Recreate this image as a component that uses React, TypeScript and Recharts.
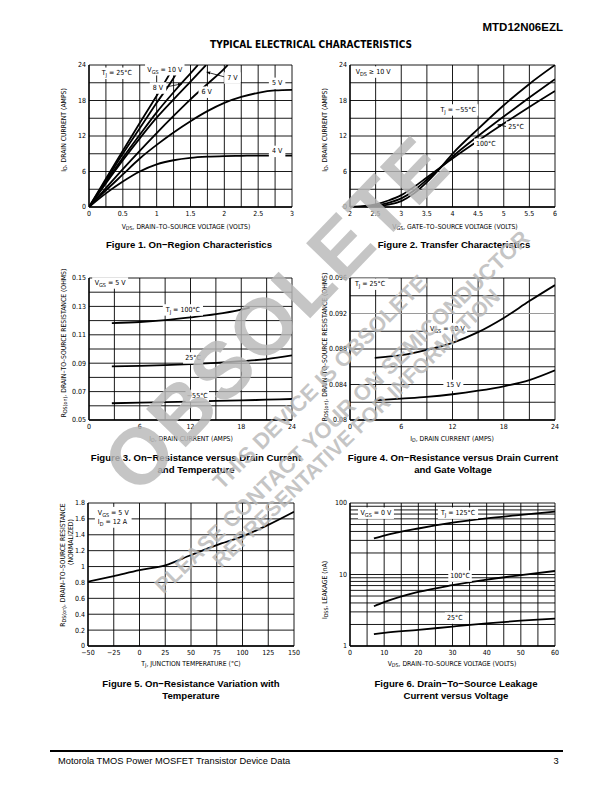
import React from 'react';
import { LineChart, Line, XAxis, YAxis, CartesianGrid, ReferenceDot, ReferenceLine } from 'recharts';

const NARROW = "'Liberation Sans Narrow', 'DejaVu Sans Condensed', 'Liberation Sans', Arial, sans-serif";
const SANS = "'Liberation Sans', Arial, Helvetica, sans-serif";

// ---------- Figure 1: on-region characteristics
const f1XTicks = [0, 0.25, 0.5, 0.75, 1, 1.25, 1.5, 1.75, 2, 2.25, 2.5, 2.75, 3];
const f1XLabels = ['0', '0.5', '1', '1.5', '2', '2.5', '3'];
const f1YTicks = [0, 3, 6, 9, 12, 15, 18, 21, 24];
const f1YLabels = ['0', '6', '12', '18', '24'];
const f1Vds10 = [0, 0.25, 0.5, 0.75, 1, 1.27];
const f1Id10 = [0, 4.8, 9.5, 14.2, 18.8, 24];
const f1Vds9 = [0, 0.25, 0.5, 0.75, 1, 1.25, 1.36];
const f1Id9 = [0, 4.5, 9.0, 13.3, 17.6, 21.8, 24];
const f1Vds8 = [0, 0.25, 0.5, 0.75, 1, 1.25, 1.5, 1.61];
const f1Id8 = [0, 4.2, 8.3, 12.2, 16.0, 19.4, 22.6, 24];
const f1Vds7 = [0, 0.25, 0.5, 0.75, 1, 1.25, 1.5, 1.73];
const f1Id7 = [0, 4.0, 7.9, 11.6, 15.1, 18.2, 21.2, 24];
const f1Vds6 = [0, 0.25, 0.5, 0.75, 1, 1.25, 1.5, 1.75, 2, 2.05];
const f1Id6 = [0, 3.2, 6.4, 9.5, 12.5, 15.4, 18.2, 20.8, 23.4, 24];
const f1VdsLow = [0, 0.25, 0.5, 0.75, 1, 1.25, 1.5, 1.75, 2, 2.25, 2.5, 2.75, 3];
const f1Id5 = [0, 2.8, 5.5, 8.2, 10.5, 12.6, 14.5, 16.2, 17.6, 18.6, 19.3, 19.7, 19.8];
const f1Id4 = [0, 2.3, 4.3, 6.0, 7.2, 7.9, 8.3, 8.5, 8.6, 8.65, 8.7, 8.7, 8.7];

// ---------- Figure 2: transfer characteristics
const f2XTicks = [2, 2.5, 3, 3.5, 4, 4.5, 5, 5.5, 6];
const f2XLabels = ['2', '2.5', '3', '3.5', '4', '4.5', '5', '5.5', '6'];
const f2YTicks = [0, 3, 6, 9, 12, 15, 18, 21, 24];
const f2YLabels = ['0', '6', '12', '18', '24'];
const f2Vgs = [2, 2.25, 2.5, 2.75, 3, 3.25, 3.5, 3.75, 4, 4.5, 5, 5.5, 6];
const f2IdM55 = [0, 0.02, 0.1, 0.4, 1.0, 2.3, 4.2, 6.5, 9.0, 13.2, 17.2, 20.8, 24];
const f2Id25 = [0.02, 0.07, 0.25, 0.7, 1.45, 2.8, 4.6, 6.5, 8.5, 12.0, 15.3, 18.5, 21.6];
const f2Id100 = [0.05, 0.15, 0.45, 1.1, 2.0, 3.4, 5.0, 6.6, 8.2, 11.2, 14.1, 16.9, 19.6];

// ---------- Figure 3: on-resistance vs drain current and temperature
const f3XTicks = [0, 3, 6, 9, 12, 15, 18, 21, 24];
const f3XLabels = ['0', '6', '12', '18', '24'];
const f3YTicks = [0.05, 0.06, 0.07, 0.08, 0.09, 0.1, 0.11, 0.12, 0.13, 0.14, 0.15];
const f3YLabels = ['0.05', '0.07', '0.09', '0.11', '0.13', '0.15'];
const f3Id100 = [2.7, 6, 9, 12, 15, 18, 19];
const f3R100 = [0.1182, 0.119, 0.1203, 0.1222, 0.1245, 0.1278, 0.1292];
const f3Id = [2.7, 6, 9, 12, 15, 18, 21, 24];
const f3R25 = [0.0878, 0.0881, 0.0886, 0.0893, 0.0902, 0.0914, 0.0929, 0.0955];
const f3RM55 = [0.0618, 0.0622, 0.0626, 0.063, 0.0634, 0.0638, 0.0643, 0.0648];

// ---------- Figure 4: on-resistance vs drain current and gate voltage
const f4XTicks = [0, 3, 6, 9, 12, 15, 18, 21, 24];
const f4XLabels = ['0', '6', '12', '18', '24'];
const f4YTicks = [0.08, 0.082, 0.084, 0.086, 0.088, 0.09, 0.092, 0.094, 0.096];
const f4YLabels = ['0.08', '0.084', '0.088', '0.092', '0.096'];
const f4Id = [2.9, 6, 9, 12, 15, 18, 21, 24];
const f4R10 = [0.087, 0.0873, 0.0879, 0.0887, 0.0899, 0.0915, 0.0934, 0.0952];
const f4R15 = [0.0822, 0.0824, 0.0826, 0.0829, 0.0833, 0.0838, 0.0845, 0.0856];

// ---------- Figure 5: on-resistance vs temperature
const f5XTicks = [-50, -25, 0, 25, 50, 75, 100, 125, 150];
const f5XLabels = ['−50', '−25', '0', '25', '50', '75', '100', '125', '150'];
const f5YTicks = [0, 0.2, 0.4, 0.6, 0.8, 1, 1.2, 1.4, 1.6, 1.8];
const f5YLabels = ['0', '0.2', '0.4', '0.6', '0.8', '1', '1.2', '1.4', '1.6', '1.8'];
const f5Tj = [-50, -25, 0, 25, 50, 75, 100, 125, 150];
const f5Rn = [0.81, 0.88, 0.955, 1.015, 1.145, 1.27, 1.38, 1.525, 1.69];

// ---------- Figure 6: drain-to-source leakage
const f6XTicks = [0, 5, 10, 15, 20, 25, 30, 35, 40, 45, 50, 55, 60];
const f6XLabels = ['0', '10', '20', '30', '40', '50', '60'];
const f6YTicks = [1, 2, 3, 4, 5, 6, 7, 8, 9, 10, 20, 30, 40, 50, 60, 70, 80, 90, 100];
const f6YLabels = ['1', '10', '100'];
const f6Vds = [7, 10, 20, 30, 40, 50, 60];
const f6I125 = [32, 35, 44, 53, 61, 68, 76];
const f6I100 = [3.6, 4.1, 5.7, 7.1, 8.5, 9.8, 11.2];
const f6I25 = [1.46, 1.53, 1.68, 1.87, 2.07, 2.26, 2.42];

const pts = (xs: number[], ys: number[]) => xs.map((x, i) => ({ x, y: ys[i] }));

const YW = 40;
const MT = 6;
const MR = 8;
const XH = 20;

const labelFmt = (labels: string[]) => (v: number) =>
  labels.find((l) => Math.abs(parseFloat(l.replace('−', '-')) - v) < 1e-9) ?? '';

function richSvg(s: string, fs: number) {
  const parts = s.split(/(_\{[^}]*\})/).filter(Boolean);
  let sub = false;
  return parts.map((p, i) => {
    if (p.startsWith('_{')) {
      sub = true;
      return (
        <tspan key={i} fontSize={fs * 0.78} dy={fs * 0.28}>
          {p.slice(2, -1)}
        </tspan>
      );
    }
    const dy = sub ? -fs * 0.28 : 0;
    sub = false;
    return (
      <tspan key={i} dy={dy}>
        {p}
      </tspan>
    );
  });
}

function richHtml(s: string) {
  const parts = s.split(/(_\{[^}]*\})/).filter(Boolean);
  return parts.map((p, i) =>
    p.startsWith('_{') ? (
      <span key={i} style={{ fontSize: '0.78em', position: 'relative', top: '0.25em' }}>
        {p.slice(2, -1)}
      </span>
    ) : (
      <span key={i}>{p}</span>
    )
  );
}

const textLen = (s: string) => {
  const subs = (s.match(/_\{([^}]*)\}/g) || []).map((m) => m.length - 3);
  const plain = s.replace(/_\{[^}]*\}/g, '');
  return plain.length + subs.reduce((a, b) => a + b * 0.78, 0);
};

function Tag({ cx, cy, text, fs, align }: any) {
  const lines = text.split('\n');
  const w = Math.max(...lines.map((l: string) => textLen(l))) * fs * 0.5 + 6;
  const lh = fs * 1.35;
  const h = lines.length * lh + 2;
  const left = cx - w / 2;
  return (
    <g>
      <rect x={left} y={cy - h / 2} width={w} height={h} fill="#fff" />
      {lines.map((l: string, i: number) => (
        <text
          key={i}
          x={align === 'start' ? left + 3 : cx}
          y={cy - h / 2 + 1 + lh * i + lh / 2}
          textAnchor={align === 'start' ? 'start' : 'middle'}
          dominantBaseline="central"
          fontSize={fs}
          fontFamily={NARROW}
          fill="#000"
        >
          {richSvg(l, fs)}
        </text>
      ))}
    </g>
  );
}

function tag(key: string, x: number, y: number, text: string, align = 'middle') {
  return (
    <ReferenceDot
      key={key}
      x={x}
      y={y}
      r={0}
      ifOverflow="visible"
      shape={(p: any) => <Tag cx={p.cx} cy={p.cy} text={text} fs={7} align={align} />}
    />
  );
}

function arrow(key: string, x1: number, y1: number, x2: number, y2: number) {
  return (
    <ReferenceLine
      key={key}
      segment={[
        { x: x1, y: y1 },
        { x: x2, y: y2 },
      ]}
      ifOverflow="visible"
      shape={(p: any) => (
        <line x1={p.x1} y1={p.y1} x2={p.x2} y2={p.y2} stroke="#000" strokeWidth={0.8} markerEnd="url(#ah)" />
      )}
    />
  );
}

function curve(key: string, data: { x: number; y: number }[]) {
  return (
    <Line
      key={key}
      data={data}
      dataKey="y"
      type="monotone"
      stroke="#000"
      strokeWidth={1.8}
      dot={false}
      isAnimationActive={false}
    />
  );
}

const xTick = (labels: string[]) => (p: any) => (
  <text x={p.x} y={p.y} dy="0.71em" textAnchor="middle" fontSize={7} fontFamily={NARROW} fill="#000">
    {labelFmt(labels)(p.payload.value)}
  </text>
);

const yTick = (labels: string[]) => (p: any) => (
  <text x={p.x} y={p.y} dy="0.35em" textAnchor="end" fontSize={7} fontFamily={NARROW} fill="#000">
    {labelFmt(labels)(p.payload.value)}
  </text>
);

function Panel(props: any) {
  const { x, y, w, h, xDomain, xTicks, xLabels, yDomain, yTicks, yLabels, log, children } = props;
  return (
    <div style={{ position: 'absolute', left: x - YW, top: y - MT }}>
      <LineChart width={w + YW + MR} height={h + MT + XH} margin={{ top: MT, right: MR, left: 0, bottom: 0 }}>
        <CartesianGrid stroke="#000" strokeWidth={0.9} fill="#fff" />
        <XAxis
          dataKey="x"
          type="number"
          domain={xDomain}
          ticks={xTicks}
          interval={0}
          allowDataOverflow
          tickLine={false}
          tickSize={0}
          tickMargin={4}
          height={XH}
          axisLine={{ stroke: '#000', strokeWidth: 1.3 }}
          tick={xTick(xLabels)}
        />
        <YAxis
          type="number"
          domain={yDomain}
          ticks={yTicks}
          scale={log ? 'log' : 'auto'}
          interval={0}
          allowDataOverflow
          tickLine={false}
          tickSize={0}
          tickMargin={3}
          width={YW}
          axisLine={{ stroke: '#000', strokeWidth: 1.3 }}
          tick={yTick(yLabels)}
        />
        {children}
      </LineChart>
    </div>
  );
}

function Txt({ x, y, text, size = 6.8, bold = false, font = NARROW, rotate = false, anchor = 'middle' }: any) {
  const tx = anchor === 'start' ? '0' : anchor === 'end' ? '-100%' : '-50%';
  return (
    <div
      style={{
        position: 'absolute',
        left: x,
        top: y,
        transform: `translate(${tx},-50%)${rotate ? ' rotate(-90deg)' : ''}`,
        whiteSpace: 'nowrap',
        fontSize: size,
        fontWeight: bold ? 'bold' : 'normal',
        fontFamily: font,
        lineHeight: 1,
        color: '#000',
      }}
    >
      {richHtml(text)}
    </div>
  );
}

const CAP = 9.6;

export default function App() {
  return (
    <div style={{ position: 'absolute', left: 0, top: 0, width: 612, height: 792, background: '#fff', overflow: 'hidden' }}>
      <svg width={0} height={0} style={{ position: 'absolute' }}>
        <defs>
          <marker id="ah" viewBox="0 0 10 10" refX="9" refY="5" markerWidth="5" markerHeight="5" orient="auto">
            <path d="M0,1 L10,5 L0,9 z" fill="#000" />
          </marker>
        </defs>
      </svg>

      <Txt x={563} y={28} text="MTD12N06EZL" size={11.5} bold font={SANS} anchor="end" />
      <Txt x={311} y={45} text="TYPICAL ELECTRICAL CHARACTERISTICS" size={10} bold />

      {/* Figure 1 */}
      <Panel x={89} y={65} w={203} h={142} xDomain={[0, 3]} xTicks={f1XTicks} xLabels={f1XLabels}
        yDomain={[0, 24]} yTicks={f1YTicks} yLabels={f1YLabels}>
        {curve('10', pts(f1Vds10, f1Id10))}
        {curve('9', pts(f1Vds9, f1Id9))}
        {curve('8', pts(f1Vds8, f1Id8))}
        {curve('7', pts(f1Vds7, f1Id7))}
        {curve('6', pts(f1Vds6, f1Id6))}
        {curve('5', pts(f1VdsLow, f1Id5))}
        {curve('4', pts(f1VdsLow, f1Id4))}
        {tag('tj', 0.41, 22.6, 'T_{J} = 25°C')}
        {tag('v10', 1.12, 23.2, 'V_{GS} = 10 V')}
        {tag('v8', 1.02, 20.1, '8 V')}
        {arrow('a8', 1.14, 20.3, 1.37, 20.8)}
        {tag('v7', 2.12, 21.8, '7 V')}
        {arrow('a7', 2.0, 22.0, 1.74, 22.8)}
        {tag('v6', 1.74, 19.4, '6 V')}
        {tag('v5', 2.78, 20.9, '5 V')}
        {tag('v4', 2.78, 9.4, '4 V')}
      </Panel>
      <Txt x={64} y={130} text="I_{D}, DRAIN CURRENT (AMPS)" rotate />
      <Txt x={186} y={227} text="V_{DS}, DRAIN–TO–SOURCE VOLTAGE (VOLTS)" />
      <Txt x={189} y={245} text="Figure 1. On−Region Characteristics" size={CAP} bold font={SANS} />

      {/* Figure 2 */}
      <Panel x={350} y={65} w={205} h={142} xDomain={[2, 6]} xTicks={f2XTicks} xLabels={f2XLabels}
        yDomain={[0, 24]} yTicks={f2YTicks} yLabels={f2YLabels}>
        {curve('m55', pts(f2Vgs, f2IdM55))}
        {curve('25', pts(f2Vgs, f2Id25))}
        {curve('100', pts(f2Vgs, f2Id100))}
        {tag('vds', 2.45, 22.8, 'V_{DS} ≥ 10 V')}
        {tag('m55l', 4.11, 16.4, 'T_{J} = −55°C')}
        {tag('25l', 5.24, 13.5, '25°C')}
        {arrow('a25', 5.05, 13.6, 4.88, 13.9)}
        {tag('100l', 4.65, 10.6, '100°C')}
      </Panel>
      <Txt x={325} y={130} text="I_{D}, DRAIN CURRENT (AMPS)" rotate />
      <Txt x={455} y={227} text="V_{GS}, GATE–TO–SOURCE VOLTAGE (VOLTS)" />
      <Txt x={454} y={245} text="Figure 2. Transfer Characteristics" size={CAP} bold font={SANS} />

      {/* Figure 3 */}
      <Panel x={89} y={278} w={203} h={142} xDomain={[0, 24]} xTicks={f3XTicks} xLabels={f3XLabels}
        yDomain={[0.05, 0.15]} yTicks={f3YTicks} yLabels={f3YLabels}>
        {curve('100', pts(f3Id100, f3R100))}
        {curve('25', pts(f3Id, f3R25))}
        {curve('m55', pts(f3Id, f3RM55))}
        {tag('vgs', 2.5, 0.1465, 'V_{GS} = 5 V')}
        {tag('100l', 11.1, 0.1275, 'T_{J} = 100°C')}
        {tag('25l', 12.3, 0.0937, '25°C')}
        {tag('m55l', 12.8, 0.0669, '−55°C')}
      </Panel>
      <Txt x={64} y={343} text="R_{DS(on)}, DRAIN–TO–SOURCE RESISTANCE (OHMS)" rotate />
      <Txt x={191} y={439} text="I_{D}, DRAIN CURRENT (AMPS)" />
      <Txt x={196} y={458} text="Figure 3. On−Resistance versus Drain Current" size={CAP} bold font={SANS} />
      <Txt x={196} y={470} text="and Temperature" size={CAP} bold font={SANS} />

      {/* Figure 4 */}
      <Panel x={350} y={278} w={205} h={142} xDomain={[0, 24]} xTicks={f4XTicks} xLabels={f4XLabels}
        yDomain={[0.08, 0.096]} yTicks={f4YTicks} yLabels={f4YLabels}>
        <ReferenceLine y={0.092} stroke="#9a9a9a" strokeWidth={1.2} />
        {curve('10', pts(f4Id, f4R10))}
        {curve('15', pts(f4Id, f4R15))}
        {tag('tj', 2.34, 0.0953, 'T_{J} = 25°C')}
        {tag('10l', 11.4, 0.0903, 'V_{GS} = 10 V')}
        {tag('15l', 12.1, 0.0839, '15 V')}
      </Panel>
      <Txt x={325} y={347} text="R_{DS(on)}, DRAIN–TO–SOURCE RESISTANCE (OHMS)" rotate />
      <Txt x={452} y={439} text="I_{D}, DRAIN CURRENT (AMPS)" />
      <Txt x={453} y={458} text="Figure 4. On−Resistance versus Drain Current" size={CAP} bold font={SANS} />
      <Txt x={453} y={470} text="and Gate Voltage" size={CAP} bold font={SANS} />

      {/* Figure 5 */}
      <Panel x={88} y={503} w={206} h={143} xDomain={[-50, 150]} xTicks={f5XTicks} xLabels={f5XLabels}
        yDomain={[0, 1.8]} yTicks={f5YTicks} yLabels={f5YLabels}>
        {curve('rn', pts(f5Tj, f5Rn))}
        {tag('box', -25.5, 1.62, 'V_{GS} = 5 V\nI_{D} = 12 A', 'start')}
      </Panel>
      <Txt x={63} y={565} text="R_{DS(on)}, DRAIN–TO–SOURCE RESISTANCE" rotate />
      <Txt x={71} y={542} text="(NORMALIZED)" rotate />
      <Txt x={191} y={664} text="T_{J}, JUNCTION TEMPERATURE (°C)" />
      <Txt x={191} y={684} text="Figure 5. On−Resistance Variation with" size={CAP} bold font={SANS} />
      <Txt x={191} y={696} text="Temperature" size={CAP} bold font={SANS} />

      {/* Figure 6 */}
      <Panel x={350} y={503} w={205} h={143} xDomain={[0, 60]} xTicks={f6XTicks} xLabels={f6XLabels}
        yDomain={[1, 100]} yTicks={f6YTicks} yLabels={f6YLabels} log>
        {curve('125', pts(f6Vds, f6I125))}
        {curve('100', pts(f6Vds, f6I100))}
        {curve('25', pts(f6Vds, f6I25))}
        {tag('vgs', 7.6, 72, 'V_{GS} = 0 V')}
        {tag('125l', 31.6, 72, 'T_{J} = 125°C')}
        {tag('100l', 32.2, 9.5, '100°C')}
        {tag('25l', 30.7, 2.46, '25°C')}
      </Panel>
      <Txt x={325} y={590} text="I_{DSS}, LEAKAGE (nA)" rotate />
      <Txt x={452} y={664} text="V_{DS}, DRAIN–TO–SOURCE VOLTAGE (VOLTS)" />
      <Txt x={456} y={684} text="Figure 6. Drain−To−Source Leakage" size={CAP} bold font={SANS} />
      <Txt x={456} y={696} text="Current versus Voltage" size={CAP} bold font={SANS} />

      {/* footer */}
      <div style={{ position: 'absolute', left: 50, top: 750, width: 513, height: 2, background: '#000' }} />
      <Txt x={58} y={762} text="Motorola TMOS Power MOSFET Transistor Device Data" size={9.3} font={SANS} anchor="start" />
      <Txt x={556} y={762} text="3" size={9.3} font={SANS} />

      {/* watermark */}
      <svg width={612} height={792} style={{ position: 'absolute', left: 0, top: 0, pointerEvents: 'none' }}>
        <g fill="#b8b8b8" fillOpacity={0.82} fontFamily={SANS} fontWeight="bold" textAnchor="middle" dominantBaseline="central">
          <text x={276} y={314} fontSize={80} letterSpacing={2} transform="rotate(-46 276 314)">OBSOLETE</text>
          <text x={320} y={382} fontSize={22} transform="rotate(-45 320 382)">THIS DEVICE IS OBSOLETE</text>
          <text x={342} y={412} fontSize={22} transform="rotate(-44 342 412)">PLEASE CONTACT YOUR ON SEMICONDUCTOR</text>
          <text x={356} y={428} fontSize={21} transform="rotate(-44 356 428)">REPRESENTATIVE FOR INFORMATION</text>
        </g>
      </svg>
    </div>
  );
}
